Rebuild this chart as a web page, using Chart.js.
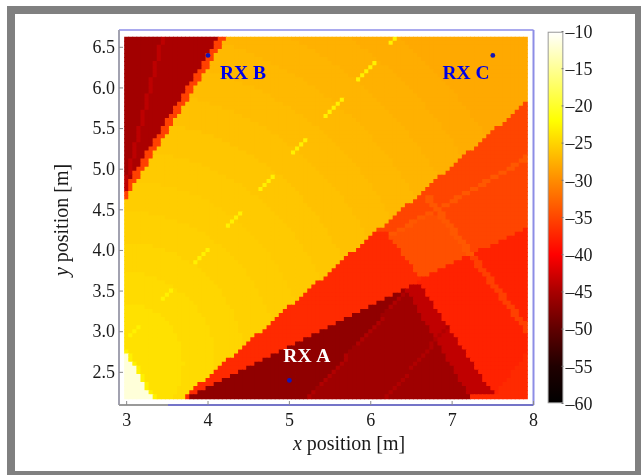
<!DOCTYPE html>
<html>
<head>
<meta charset="utf-8">
<title>RX coverage map</title>
<script src="https://cdn.jsdelivr.net/npm/chart.js"></script>
<style>
  html, body { margin: 0; padding: 0; background: #fff; }
  #page { position: relative; width: 641px; height: 475px; overflow: hidden; }
  #border { position: absolute; left: 7px; top: 6px; box-sizing: border-box; width: 634px; height: 469px; border-style: solid; border-color: #808080; border-width: 8px 6px 4px 8px; }
  canvas { position: absolute; top: 0; filter: blur(0.35px); }
  #map { left: 0; }
  #bar { left: 530px; }
</style>
</head>
<body>
<div id="page">
  <div id="border"></div>
  <canvas id="map" width="641" height="471"></canvas>
  <canvas id="bar" width="105" height="471"></canvas>
</div>
<script>
const FONT = '"Liberation Serif", serif';

// Grid: one cell every 0.05 m
const gridX0 = 3.0;
const gridY0 = 6.6;
const gridStep = 0.05;
const gridCols = 99;

const xTicks = [3, 4, 5, 6, 7, 8];
const yTicks = [2.5, 3, 3.5, 4, 4.5, 5, 5.5, 6, 6.5];
const barTicks = [-10, -15, -20, -25, -30, -35, -40, -45, -50, -55, -60];

// Level [dB]
const levelKeys = ['w', 'z', 'a', 'b', 'B', 'c', 'C', 'd', 'D', 'e', 'E', 'f', 'F', 'g', 'G', 'h', 'n', 'p', 'o', 'l', 's', 'r', 'q', 'j', 'v', 't', 'k', 'i', 'u', 'm'];
const levelValues = [-11.8, -23, -24.1, -24.5, -24.85, -25.2, -25.45, -25.7, -26, -26.3, -26.6, -26.9, -27.15, -27.4, -27.7, -28, -33.7, -34.3, -35.1, -35.4, -35.4, -37, -37.6, -43.8, -43.6, -44.5, -44.9, -45.4, -45.6, -46.7];

// Colour scale
const stopValues = [-60, -55, -50, -45, -40, -30, -22, -10];
const stopColors = [[0, 0, 0], [32, 0, 0], [96, 0, 0], [168, 0, 0], [255, 0, 0], [255, 140, 0], [255, 255, 0], [255, 255, 255]];

// Each row from y = 6.6 down to y = 2.2: level letter + column where that run ends
const rows = [
  'i9 j10 k23 l25 F41 g56 G68 h99',
  'i9 j10 k22 l24 F43 g57 G69 h99',
  'i8 j9 k22 l24 f27 F45 g58 G70 h99',
  'i8 j9 k21 l23 f30 F47 g60 G71 h99',
  'i8 j9 k20 l22 f32 F48 g61 G72 h99',
  'i8 j9 k20 l22 f34 F50 g62 G73 h99',
  'i7 j8 k19 l21 f36 F51 g63 G74 h99',
  'i7 j8 k19 l21 f38 F53 g65 G75 h99',
  'i7 j8 k18 l20 E21 f40 F54 g66 G76 h99',
  'i7 j8 k17 l19 E24 f42 F55 g67 G77 h99',
  'i6 j7 k17 l19 E27 f44 F57 g68 G78 h99',
  'i6 j7 k16 l18 E29 f45 F58 g69 G79 h99',
  'i6 j7 k15 l17 E32 f47 F59 g70 G80 h99',
  'i6 j7 k15 l17 E34 f48 F60 g71 G81 h99',
  'i5 j6 k14 l16 E36 f49 F61 g72 G82 h99',
  'i5 j6 k14 l16 e18 E37 f51 F62 g73 G82 h99',
  'i5 j6 k13 l15 e21 E39 f52 F63 g74 G83 h98 o99',
  'i5 j6 k12 l14 e24 E41 f53 F64 g74 G84 h97 o99',
  'i4 j5 k12 l14 e27 E42 f54 F65 g75 G85 h96 o99',
  'i4 j5 k11 l13 e29 E44 f56 F66 g76 G85 h95 o99',
  'i4 j5 k10 l12 e31 E45 f57 F67 g77 G86 h94 o99',
  'i4 j5 k10 l12 e33 E46 f58 F68 g78 G87 h93 o99',
  'i3 j4 k9 l11 D15 e35 E48 f59 F69 g78 G88 h91 o99',
  'i3 j4 k9 l11 D19 e36 E49 f60 F70 g79 G88 h90 o99',
  'i3 j4 k8 l10 D22 e38 E50 f61 F70 g80 G89 o99',
  'i3 j4 k7 l9 D24 e39 E51 f61 F71 g81 G88 o99',
  'i2 j3 k7 l9 D26 e40 E52 f62 F72 g81 G87 o99',
  'i2 j3 k6 l8 D28 e42 E53 f63 F73 g82 G86 o99',
  'i2 j3 k5 l7 D30 e43 E54 f64 F73 g82 G84 o99',
  'i2 j3 k5 l7 d12 D32 e44 E55 f65 F74 g83 o99',
  'i1 j2 k4 l6 d16 D33 e45 E56 f66 F75 g82 o99',
  'i1 j2 k4 l6 d19 D35 e46 E57 f66 F75 g81 o99',
  'i1 j2 k3 l5 d21 D36 e47 E58 f67 F76 g80 o99',
  'i1 j2 k2 l4 d23 D37 e48 E58 f68 F77 g79 o99',
  'j1 k2 l4 d25 D39 e49 E59 f68 F77 o99',
  'j1 l3 d27 D40 e50 E60 f69 F76 o99',
  'j1 l2 C9 d29 D41 e51 E61 f70 F75 o99',
  'j1 l2 C13 d30 D42 e52 E61 f70 F74 o99',
  'l1 C16 d31 D43 e53 E62 f71 F73 o99',
  'l1 C19 d33 D44 e54 E63 f72 o99',
  'C21 d34 D44 e54 E63 f71 o99',
  'C22 d35 D45 e55 E64 f69 o99',
  'C24 d36 D46 e56 E64 f68 o99',
  'c6 C25 d37 D47 e56 E65 f67 o99',
  'c10 C27 d38 D48 e57 E65 f66 o74 p77 o99',
  'c13 C28 d39 D48 e58 E65 o72 p78 o99',
  'c16 C29 d40 D49 e58 E64 o71 p79 o99',
  'c18 C30 d41 D50 e59 E62 o69 p80 o98 q99',
  'c20 C31 d42 D50 e59 E61 r65 p80 o96 q99',
  'c21 C32 d42 D51 e60 r65 p81 o94 q99',
  'c22 C33 d43 D51 e59 r66 p82 o92 q99',
  'B7 c24 C34 d44 D52 e58 r67 p83 o90 q99',
  'B10 c25 C35 d44 D53 e57 r68 p83 o87 q99',
  'B13 c26 C36 d45 D53 e55 r68 p84 o85 q99',
  'B14 c27 C36 d46 D54 r69 p83 q99',
  'B16 c28 C37 d46 D53 r70 p81 q99',
  'B18 c29 C38 d47 D52 r71 p79 q99',
  'B19 c30 C38 d47 D51 r71 p77 q99',
  'b5 B20 c30 C39 d48 D50 r72 p75 q99',
  'b8 B21 c31 C39 d48 D49 r73 q99',
  'b10 B22 c32 C40 d47 r72 q99',
  'b12 B23 c32 C40 d46 r70 v73 q99',
  'b13 B24 c33 C41 d45 r68 u69 v74 q99',
  'b15 B24 c33 C41 d44 r66 m68 u70 v74 q99',
  'b16 B25 c34 C42 d43 r64 m67 u71 v75 q99',
  'b17 B25 c34 C42 r62 m66 u71 v76 q99',
  'a5 b18 B26 c35 C40 r60 m65 u72 v76 q99',
  'a7 b18 B27 c35 C39 r58 m64 u72 v77 q99',
  'a9 b19 B27 c36 C38 r56 m63 u73 v78 q99',
  'a10 b20 B27 c36 C37 r54 m63 u73 v78 q99',
  'a11 b20 B28 c36 r52 m62 u74 v79 q99',
  'a12 b21 B28 c35 r50 m61 u75 v80 q99',
  'a12 b21 B28 c34 r48 m60 u75 v80 q99',
  'a13 b21 B29 c32 r46 m59 u76 v81 q99',
  'a13 b22 B29 c31 r44 m58 u76 v82 q99',
  'a14 b22 B29 c30 r42 m57 u77 v82 q99',
  'a14 b22 B29 r40 m56 u78 v83 q99',
  'z1 a14 b22 B28 r38 m55 u78 v84 q99',
  'w1 z2 a14 b22 B27 r36 m54 u79 v84 q98 r99',
  'w1 z2 a14 b22 B25 r34 m54 u79 v85 q98 r99',
  'w2 z3 a15 b22 B24 r32 m53 u80 v86 q97 r99',
  'w3 z4 a14 b22 B23 r30 m52 u81 v86 q96 r99',
  'w3 z4 a14 b22 r28 m51 u81 v87 q95 r99',
  'w4 z5 a14 b21 r26 m50 u82 v88 q95 r99',
  'w4 z5 a14 b20 r24 m49 u82 v88 q94 r99',
  'w5 z6 a14 b18 r22 m48 u83 v89 q93 r99',
  'w5 z6 a13 b17 r20 m47 u84 v90 q92 r99',
  'w6 z7 a13 b16 r18 m46 u84 v91 q92 r99',
  'w7 z8 a12 b15 r16 m45 u85 r99'
];

// Thin features on top of the rows: [row, column]
const yellowDashes = [[0,66],[1,65],[6,61],[7,60],[8,59],[9,58],[10,57],[15,53],[16,52],[17,51],[18,50],[19,49],
  [25,44],[26,43],[27,42],[28,41],[34,36],[35,35],[36,34],[37,33],[43,28],[44,27],[45,26],[46,25],
  [52,20],[53,19],[54,18],[55,17],[62,11],[63,10],[64,9],[71,3],[72,2],[73,1]];
const darkDashes = [[63,68],[64,67],[65,66],[66,65],[69,63],[70,62],[71,61],[72,60],[73,59],[74,58],[75,57],
  [78,54],[79,54],[80,53],[81,52],[82,51],[83,50],[84,49],[85,48],[87,46],[88,45],
  [71,79],[72,78],[73,77],[74,76],[75,75],[76,75],[77,74],[78,73],[79,72],[80,71],[81,70],
  [83,69],[84,68],[85,67],[86,66],[87,65],[88,64]];
const crossBand = [[29,98],[30,97],[31,95],[32,94],[33,92],[34,90],[35,88],[36,87],[37,85],[38,83],[39,81],[40,80],
  [41,78],[42,76],[43,74],[44,72],[45,70],[46,69],[47,67],[48,65]];
const ridgeUpper = [[39,74],[40,74],[41,75],[42,76],[43,77],[44,77],[45,78],[46,79],[47,80],[48,80],[49,81],[50,82],[51,83],[52,83],[53,84]];
const ridgeLower = [[54,85],[55,86],[56,86],[57,87],[58,88],[59,89],[60,89],[61,90],[62,91],[63,92],[64,92],[65,93],[66,94],
  [67,95],[68,95],[69,96],[70,97],[71,98],[72,98]];

// Receivers
const rxNames = ['RX A', 'RX B', 'RX C'];
const rxX = [5.0, 4.0, 7.5];
const rxY = [2.4, 6.4, 6.4];
const rxLabelX = [5.215, 4.43, 7.17];
const rxLabelY = [2.69, 6.17, 6.17];
const rxLabelColors = ['#ffffff', '#0000e6', '#0000e6'];

function levelOf(key) {
  return levelValues[levelKeys.indexOf(key)];
}

function colorOf(v) {
  let i = 0;
  while (i < stopValues.length - 2 && v > stopValues[i + 1]) i++;
  const t = Math.min(1, Math.max(0, (v - stopValues[i]) / (stopValues[i + 1] - stopValues[i])));
  const c = stopColors[i].map((a, k) => Math.round(a + (stopColors[i + 1][k] - a) * t));
  return `rgb(${c[0]},${c[1]},${c[2]})`;
}

function buildGrid() {
  const grid = rows.map(row => {
    const cells = new Array(gridCols).fill(0);
    let start = 0;
    row.split(' ').forEach(run => {
      const end = parseInt(run.slice(1), 10);
      for (let c = start; c < end; c++) cells[c] = levelOf(run[0]);
      start = end;
    });
    return cells;
  });

  const paint = (list, key, width) => {
    list.forEach(([r, c]) => {
      for (let k = c; k < c + width && k < gridCols; k++) grid[r][k] = levelOf(key);
    });
  };
  paint(yellowDashes, 'z', 1);
  paint(darkDashes, 't', 1);
  paint(crossBand, 'n', 2);
  paint(ridgeUpper, 'n', 2);
  paint(ridgeLower, 's', 2);
  return grid;
}

const points = [];
const pointColors = [];
buildGrid().forEach((cells, r) => {
  cells.forEach((v, c) => {
    points.push({ x: gridX0 + c * gridStep, y: gridY0 - r * gridStep });
    pointColors.push(colorOf(v));
  });
});

function line(ctx, color, width, x1, y1, x2, y2) {
  ctx.strokeStyle = color;
  ctx.lineWidth = width;
  ctx.beginPath();
  ctx.moveTo(x1, y1);
  ctx.lineTo(x2, y2);
  ctx.stroke();
}

const mapDecor = {
  id: 'mapDecor',
  afterDatasetsDraw(chart) {
    const { ctx, chartArea: a, scales } = chart;
    ctx.save();

    // RX names
    ctx.font = `bold 19.5px ${FONT}`;
    ctx.textAlign = 'center';
    ctx.textBaseline = 'middle';
    rxNames.forEach((name, i) => {
      ctx.fillStyle = rxLabelColors[i];
      ctx.fillText(name, scales.x.getPixelForValue(rxLabelX[i]), scales.y.getPixelForValue(rxLabelY[i]));
    });

    // frame
    line(ctx, '#a9a9ee', 2, a.left, a.top, a.right, a.top);
    line(ctx, '#8d8de6', 2, a.right, a.top, a.right, a.bottom);
    line(ctx, '#a2a2b0', 2, a.left, a.top, a.left, a.bottom);
    line(ctx, '#9a9a9a', 2, a.left, a.bottom, 168, a.bottom);
    line(ctx, '#7474c8', 2, 168, a.bottom, a.right, a.bottom);

    // inward ticks
    xTicks.forEach(v => {
      const px = scales.x.getPixelForValue(v);
      line(ctx, '#8a8a8a', 1, px, a.bottom, px, a.bottom - 4);
    });
    yTicks.forEach(v => {
      const py = scales.y.getPixelForValue(v);
      line(ctx, '#8a8a8a', 1, a.left, py, a.left + 4, py);
    });

    // axis titles, the letter is in italics
    ctx.fillStyle = '#1a1a1a';
    ctx.textAlign = 'left';
    ctx.textBaseline = 'middle';
    const rest = ' position [m]';
    ctx.font = `italic 20px ${FONT}`;
    const wx = ctx.measureText('x').width;
    const wy = ctx.measureText('y').width;
    ctx.font = `20px ${FONT}`;
    const wr = ctx.measureText(rest).width;

    let x0 = 349 - (wx + wr) / 2;
    ctx.font = `italic 20px ${FONT}`;
    ctx.fillText('x', x0, 445);
    ctx.font = `20px ${FONT}`;
    ctx.fillText(rest, x0 + wx, 445);

    ctx.translate(63, 220);
    ctx.rotate(-Math.PI / 2);
    x0 = -(wy + wr) / 2;
    ctx.font = `italic 20px ${FONT}`;
    ctx.fillText('y', x0, 0);
    ctx.font = `20px ${FONT}`;
    ctx.fillText(rest, x0 + wy, 0);

    ctx.restore();
  }
};

new Chart(document.getElementById('map'), {
  type: 'scatter',
  data: {
    datasets: [
      {
        label: 'Receivers',
        data: rxX.map((x, i) => ({ x: x, y: rxY[i] })),
        pointRadius: 2.4,
        pointBackgroundColor: '#1414b4',
        pointBorderWidth: 0
      },
      {
        label: 'Level',
        data: points,
        pointStyle: 'rect',
        pointRadius: 3.5,
        pointBackgroundColor: pointColors,
        pointBorderWidth: 0
      }
    ]
  },
  plugins: [mapDecor],
  options: {
    responsive: false,
    animation: false,
    events: [],
    layout: { padding: { left: 0, top: 30, right: 107.5, bottom: 0 } },
    plugins: { legend: { display: false }, tooltip: { enabled: false } },
    scales: {
      x: {
        type: 'linear',
        min: 2.906,
        max: 8,
        afterFit: scale => { scale.height = 66; },
        afterBuildTicks: scale => { scale.ticks = xTicks.map(v => ({ value: v })); },
        grid: { display: false, drawTicks: false },
        border: { display: false },
        ticks: { color: '#1a1a1a', padding: 5, maxRotation: 0, font: { family: FONT, size: 18 }, callback: v => String(v) }
      },
      y: {
        type: 'linear',
        min: 2.098,
        max: 6.713,
        afterFit: scale => { scale.width = 119; },
        afterBuildTicks: scale => { scale.ticks = yTicks.map(v => ({ value: v })); },
        grid: { display: false, drawTicks: false },
        border: { display: false },
        ticks: { color: '#1a1a1a', padding: 4, labelOffset: 1, font: { family: FONT, size: 18 }, callback: v => v.toFixed(1) }
      }
    }
  }
});

// Colour bar
function barGradient(context) {
  const chart = context.chart;
  if (!chart.chartArea) return '#888';
  const y = chart.scales.y;
  const g = chart.ctx.createLinearGradient(0, y.getPixelForValue(-60), 0, y.getPixelForValue(-10));
  stopValues.forEach(v => {
    g.addColorStop((v + 60) / 50, colorOf(v));
  });
  return g;
}

const barDecor = {
  id: 'barDecor',
  afterDatasetsDraw(chart) {
    const { ctx, chartArea: a, scales } = chart;
    ctx.save();
    barTicks.forEach(v => {
      const py = scales.y.getPixelForValue(v);
      line(ctx, '#777', 1, a.right - 2, py, a.right, py);
    });
    ctx.restore();
  }
};

new Chart(document.getElementById('bar'), {
  type: 'bar',
  data: {
    labels: ['dB'],
    datasets: [{
      data: [[-60, -10]],
      backgroundColor: barGradient,
      borderColor: '#999999',
      borderWidth: 1.5,
      borderSkipped: false,
      barPercentage: 1,
      categoryPercentage: 1
    }]
  },
  plugins: [barDecor],
  options: {
    responsive: false,
    animation: false,
    events: [],
    layout: { padding: { left: 17.5, top: 31.5, right: 0, bottom: 67.5 } },
    plugins: { legend: { display: false }, tooltip: { enabled: false } },
    scales: {
      x: { display: false },
      y: {
        position: 'right',
        min: -60,
        max: -10,
        afterFit: scale => { scale.width = 71.5; },
        afterBuildTicks: scale => { scale.ticks = barTicks.map(v => ({ value: v })); },
        grid: { display: false, drawTicks: false },
        border: { display: false },
        ticks: { color: '#1a1a1a', padding: 2, labelOffset: 1.5, font: { family: FONT, size: 18 }, callback: v => '\u2013' + Math.abs(v) }
      }
    }
  }
});
</script>
</body>
</html>
